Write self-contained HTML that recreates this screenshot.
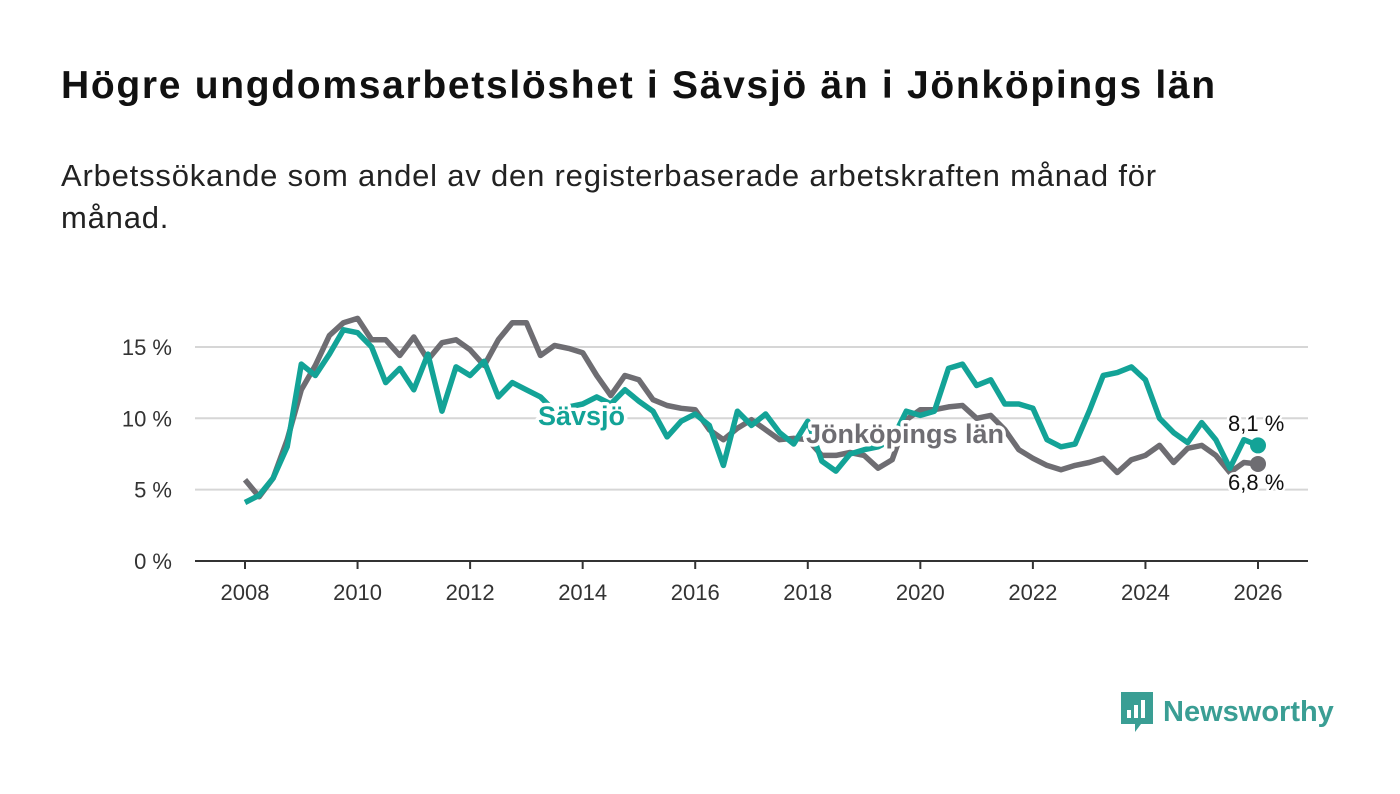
<!DOCTYPE html>
<html><head><meta charset="utf-8"><style>
body{margin:0;width:1400px;height:794px;background:#fff;font-family:"Liberation Sans",sans-serif;overflow:hidden;position:relative}
h1{position:absolute;left:61px;top:64px;margin:0;font-size:39px;letter-spacing:1.7px;font-weight:bold;color:#111}
p.sub{position:absolute;left:61px;top:155px;margin:0;font-size:31px;letter-spacing:0.8px;line-height:42px;color:#222;width:1180px}
svg{position:absolute;left:0;top:0}
</style></head><body>
<h1>Högre ungdomsarbetslöshet i Sävsjö än i Jönköpings län</h1>
<p class="sub">Arbetssökande som andel av den registerbaserade arbetskraften månad för månad.</p>
<svg id="chart" width="1400" height="794"></svg>
<div style="position:absolute;left:1119px;top:690px;display:flex;align-items:center;gap:8px">
<svg width="36" height="44" style="position:static"><path d="M2 2h32v32H22l-6 8v-8H2z" fill="#3a9e94"/><rect x="8" y="20" width="4" height="8" fill="#fff"/><rect x="15" y="15" width="4" height="13" fill="#fff"/><rect x="22" y="10" width="4" height="18" fill="#fff"/></svg>
<span style="font-size:29px;font-weight:bold;color:#3a9e94">Newsworthy</span></div>
<script>
const years=[2008,2010,2012,2014,2016,2018,2020,2022,2024,2026];
const yTicks=[0,5,10,15];
const jonkoping=[5.7,4.5,5.8,8.5,12,13.7,15.8,16.7,17.0,15.5,15.5,14.4,15.7,14.1,15.3,15.5,14.8,13.7,15.5,16.7,16.7,14.4,15.1,14.9,14.6,13.0,11.6,13.0,12.7,11.3,10.9,10.7,10.6,9.2,8.5,9.3,9.9,9.2,8.5,8.6,8.5,7.4,7.4,7.6,7.4,6.5,7.1,9.9,10.6,10.6,10.8,10.9,10.0,10.2,9.2,7.8,7.2,6.7,6.4,6.7,6.9,7.2,6.2,7.1,7.4,8.1,6.9,7.9,8.1,7.4,6.2,6.9,6.8];
const savsjo=[4.1,4.6,5.8,8.0,13.8,13.0,14.5,16.2,16.0,15.0,12.5,13.5,12.0,14.5,10.5,13.6,13.0,14.0,11.5,12.5,12.0,11.5,10.5,10.8,11.0,11.5,11.0,12.0,11.2,10.5,8.7,9.8,10.3,9.5,6.7,10.5,9.5,10.3,9.0,8.2,9.8,7.0,6.3,7.5,7.8,8.0,8.5,10.5,10.2,10.5,13.5,13.8,12.3,12.7,11.0,11.0,10.7,8.5,8.0,8.2,10.5,13.0,13.2,13.6,12.7,10.0,9.0,8.3,9.7,8.5,6.5,8.5,8.1];
const NS="http://www.w3.org/2000/svg";
const svg=document.getElementById('chart');
const X=t=>245+(t-2008)*(1258-245)/18;
const Y=v=>561-v*14.27;
function mk(tag,attrs,parent){const e=document.createElementNS(NS,tag);for(const k in attrs)e.setAttribute(k,attrs[k]);(parent||svg).appendChild(e);return e;}
yTicks.forEach(v=>{
 if(v>0){const g=mk('line',{x1:195,x2:1308,y1:Y(v),y2:Y(v),stroke:'#d6d6d6','stroke-width':2});
 
 }
 const t=mk('text',{x:172,y:Y(v)+8,'text-anchor':'end','font-size':22,fill:'#333'});t.textContent=v+' %';
 
 
});
const ax=mk('line',{x1:195,x2:1308,y1:561,y2:561,stroke:'#333','stroke-width':2});


years.forEach(yr=>{
 mk('line',{x1:X(yr),x2:X(yr),y1:561,y2:569,stroke:'#333','stroke-width':2});
 const t=mk('text',{x:X(yr),y:600,'text-anchor':'middle','font-size':22,fill:'#333'});t.textContent=yr;
 
 
});
function line(data,color,name){
 const d=data.map((v,i)=>(i?'L':'M')+X(2008+i*0.25).toFixed(1)+' '+Y(v).toFixed(1)).join(' ');
 const p=mk('path',{d:d,fill:'none',stroke:color,'stroke-width':5.5,'stroke-linejoin':'round'});
 
 
 const last=data[data.length-1];
 const c=mk('circle',{cx:X(2026),cy:Y(last),r:8,fill:color});
 
 
}
line(jonkoping,'#6e6d72','jonkoping');
line(savsjo,'#13a397','savsjo');
function lab(txt,x,y,color,size,bold,name){
 const t=mk('text',{x:x,y:y,'font-size':size,'font-weight':bold?'bold':'normal',fill:color,stroke:'#fff','stroke-width':bold?7:5,'paint-order':'stroke','stroke-linejoin':'round'});
 t.textContent=txt;
 
 
}
lab('Sävsjö',538,425,'#13a397',27,true,'savsjo-label');
lab('Jönköpings län',806,443,'#6e6d72',27,true,'jonkoping-label');
lab('8,1 %',1228,431,'#111',22,false,'savsjo-value-label');
lab('6,8 %',1228,490,'#111',22,false,'jonkoping-value-label');
</script>
</body></html>
